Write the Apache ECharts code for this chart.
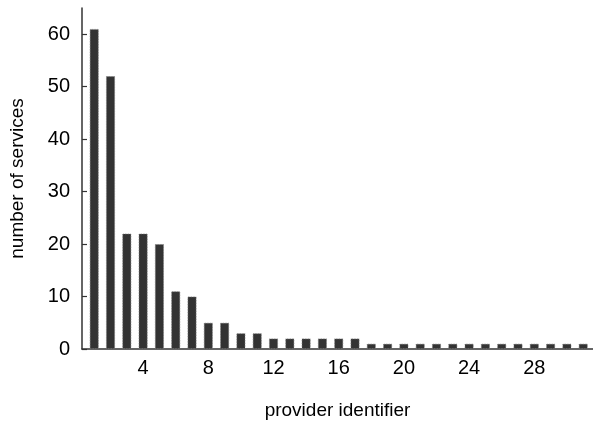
<!DOCTYPE html>
<html>
<head>
<meta charset="utf-8">
<script src="https://cdn.jsdelivr.net/npm/echarts@6/dist/echarts.min.js"></script>
<style>
html,body{margin:0;padding:0;background:#fff;}
#c{width:593px;height:427px;}
</style>
</head>
<body>
<div id="c"></div>
<script>
const providers = [1,2,3,4,5,6,7,8,9,10,11,12,13,14,15,16,17,18,19,20,21,22,23,24,25,26,27,28,29,30,31];
const services = [61,52,22,22,20,11,10,5,5,3,3,2,2,2,2,2,2,1,1,1,1,1,1,1,1,1,1,1,1,1,1];
const xTicks = [4,8,12,16,20,24,28];
const yTicks = [0,10,20,30,40,50,60];

const font = {fontFamily:'Liberation Sans, Arial, sans-serif', fontSize:19, color:'#000'};
const tickFont = {fontFamily:'Liberation Sans, Arial, sans-serif', fontSize:20, color:'#000'};
const chart = echarts.init(document.getElementById('c'), null, {renderer:'canvas'});
chart.setOption({
  animation:false,
  grid:{left:82, right:0, top:8, bottom:78, containLabel:false},
  xAxis:{
    type:'value', min:0.25, max:31.6,
    name:'provider identifier', nameLocation:'middle', nameGap:52,
    nameTextStyle:font,
    axisLine:{show:true, lineStyle:{color:'#333', width:1.5}},
    axisTick:{show:false},
    splitLine:{show:false},
    axisLabel:Object.assign({margin:9, customValues:xTicks}, tickFont)
  },
  yAxis:{
    type:'value', min:0, max:65,
    name:'number of services', nameLocation:'middle', nameGap:55, nameRotate:90,
    nameTextStyle:font,
    axisLine:{show:true, lineStyle:{color:'#333', width:1.5}},
    axisTick:{show:true, inside:true, length:5, customValues:yTicks, lineStyle:{color:'#333', width:1.2}},
    splitLine:{show:false},
    axisLabel:Object.assign({margin:12, customValues:yTicks}, tickFont)
  },
  series:[{
    type:'bar',
    barWidth:9,
    data:providers.map((p,i)=>[p, services[i]]),
    itemStyle:{color:'#333', borderColor:'#777', borderWidth:0.8, borderType:'dotted'}
  }]
});
</script>
</body>
</html>
